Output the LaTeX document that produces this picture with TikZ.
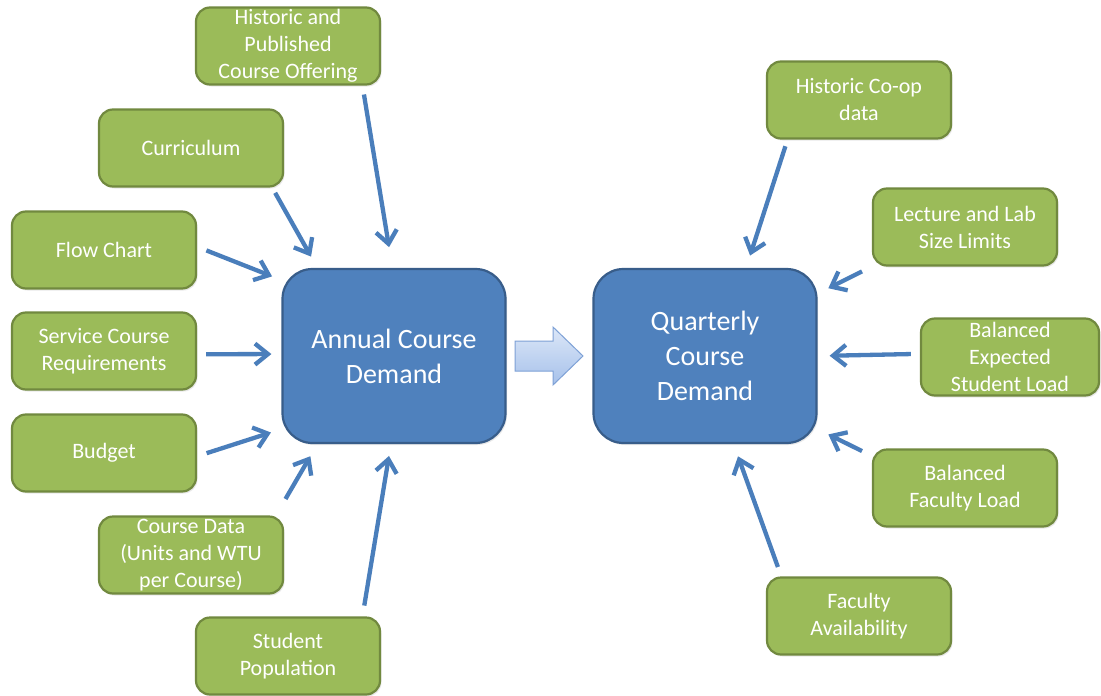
\documentclass[tikz,border=0pt]{standalone}
\usepackage{fontspec}
\setmainfont{Carlito}
\usetikzlibrary{arrows.meta,shadows}
\definecolor{leaf}{HTML}{9BBB59}
\definecolor{leafedge}{HTML}{71893F}
\definecolor{hubblue}{HTML}{4F81BD}
\definecolor{hubedge}{HTML}{385D8A}
\definecolor{feedblue}{HTML}{4A7EBB}
\definecolor{passtop}{HTML}{DCE7F8}
\definecolor{passbot}{HTML}{A6C1EA}
\definecolor{passedge}{HTML}{7EA1D6}

\tikzset{
  src/.style={draw=leafedge,fill=leaf,line width=2.2pt,rounded corners=14pt,minimum width=184pt,minimum height=77pt,
    inner xsep=2pt,inner ysep=0pt,align=center,text=white,font=\fontsize{22}{27}\selectfont,
    drop shadow={shadow xshift=1.5pt,shadow yshift=-2pt,opacity=.18}},
  hub/.style={draw=hubedge,fill=hubblue,line width=2.2pt,rounded corners=30pt,minimum width=223pt,minimum height=174pt,
    align=center,text=white,font=\fontsize{28}{35}\selectfont,
    drop shadow={shadow xshift=1.5pt,shadow yshift=-2pt,opacity=.18}},
  feed/.style={draw=feedblue,line width=4.3pt,-{Straight Barb[length=13pt,width=21pt]}}
}

\begin{document}
\begin{tikzpicture}[x=1pt,y=-1pt]
    \useasboundingbox[fill=white] (0,0) rectangle (1101,696);
    % the two demand blocks
    \node[hub] (acd) at (394,356) {Annual Course\\Demand};
    \node[hub] (qcd) at (705,356) {Quarterly\\Course\\Demand};
    \shade[top color=passtop,bottom color=passbot,draw=passedge,line width=1pt]
      (515,341) -- (553,341) -- (553,327) -- (583,356) -- (553,385) -- (553,371) -- (515,371) -- cycle;
    % inputs to the annual demand
    \foreach \n/\x/\y/\txt in {hist/288/46/{Historic and\\Published\\Course Offering},curr/191/148/{Curriculum},
      flow/104/250/{Flow Chart},serv/104/351/{Service Course\\Requirements},budg/104/453/{Budget},
      cdat/191/555/{Course Data\\(Units and WTU\\per Course)},stud/288/656/{Student\\Population}}
      {\node[src] (\n) at (\x,\y) {\txt};}
    % inputs to the quarterly demand
    \foreach \n/\x/\y/\txt in {coop/859/100/{Historic Co-op\\data},lect/965/227/{Lecture and Lab\\Size Limits},
      facl/965/488/{Balanced\\Faculty Load},favl/859/616/{Faculty\\Availability}}
      {\node[src] (\n) at (\x,\y) {\txt};}
    \node[src,minimum width=178pt] (bal) at (1010,357) {Balanced\\Expected\\Student Load};
    % feed arrows: source/anchor/target/anchor/gap at start/gap at end
    \foreach \a/\sa/\b/\eb/\s/\e in {hist/-28.5/acd/91.3/9/21,curr/-26/acd/131/6/13,flow/2.3/acd/146.4/10/10,
      serv/-2.2/acd/179.5/9/10,budg/-2.9/acd/-147/10/11,cdat/25.2/acd/-131.4/19/14,stud/28.8/acd/-92.5/11/12,
      coop/-151.9/qcd/65.6/7/13,lect/-157.4/qcd/29.8/11/12,bal/178.7/qcd/0.5/9/12,
      facl/161.5/qcd/-33.5/11/12,favl/153.9/qcd/-72/10/13}
      {\draw[feed,shorten <=\s pt,shorten >=\e pt] (\a.\sa) -- (\b.\eb);}
  \end{tikzpicture}
\end{document}
